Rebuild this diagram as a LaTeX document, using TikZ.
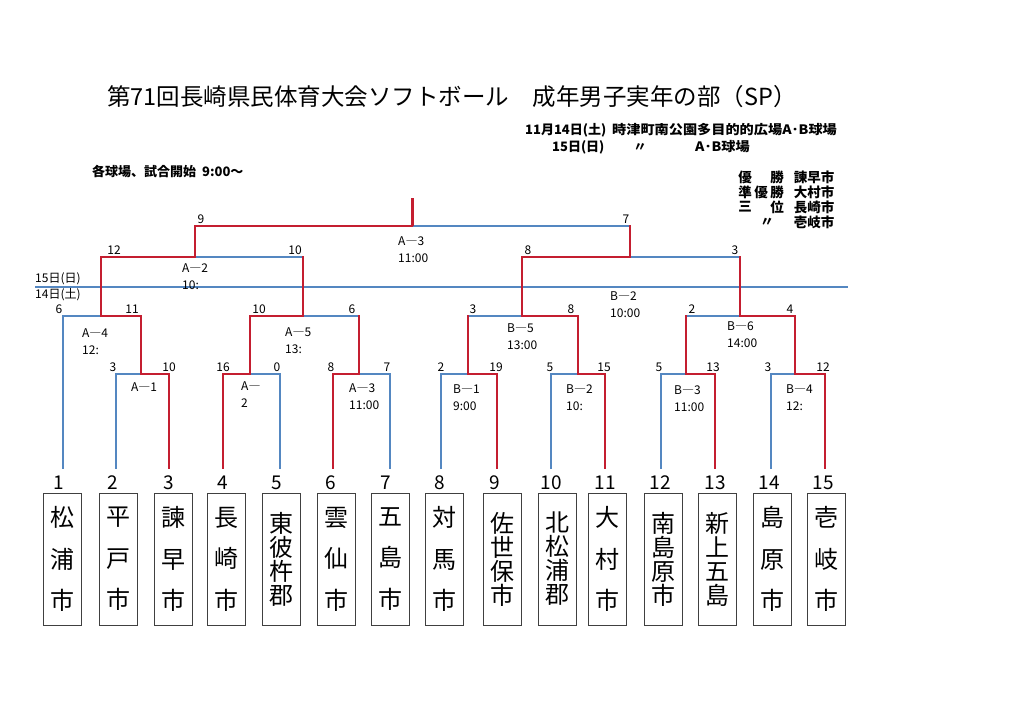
\documentclass[tikz,border=0pt]{standalone}
\usepackage{fontspec}
\setmainfont{Noto Sans CJK JP}
\usepackage{graphicx}
\definecolor{bl}{RGB}{84,135,193}
\definecolor{rd}{RGB}{196,30,48}
\newcommand\teamfontA{\fontsize{24}{41.5}\selectfont\setlength{\lineskiplimit}{-20pt}}
\newcommand\teamfontB{\fontsize{24}{24}\selectfont\setlength{\lineskiplimit}{-20pt}}
\tikzset{
  bline/.style={draw=bl, line width=1.4pt, line cap=rect},
  rline/.style={draw=rd, line width=1.4pt, line cap=rect},
  sepline/.style={draw=bl, line width=1.2pt},
  score/.style={font=\fontsize{12}{12}\selectfont, inner sep=0pt, anchor=south},
  mlab/.style={font=\fontsize{12}{17}\selectfont, inner sep=0pt, anchor=west, align=left},
  num/.style={font=\fontsize{19}{19}\selectfont, inner sep=0pt},
  team/.style={draw=black!75, line width=0.8pt, minimum width=38pt, minimum height=132pt, inner sep=0pt, align=center,
    font=\teamfontA},
  teamf/.style={team, font=\teamfontB},
  head/.style={font=\bfseries\fontsize{13}{13}\selectfont, inner sep=0pt},
  rhead/.style={font=\bfseries\fontsize{13.5}{13.5}\selectfont, inner sep=0pt},
  daylab/.style={font=\fontsize{12}{12}\selectfont, inner sep=0pt, anchor=west},
}
\begin{document}
\begin{tikzpicture}[x=1pt,y=-1pt]
\useasboundingbox[fill=white] (0,0) rectangle (1024,724);

% ---------- headings ----------
\node[anchor=west, inner sep=0pt, font=\fontsize{23.5}{23.5}\selectfont] (title) at (107,97)
  {第71回長崎県民体育大会ソフトボール　成年男子実年の部（SP）};
\node[head, anchor=west] (d1) at (525,130) {11月14日(土)};
\node[head, anchor=west] (v1) at (612,130) {\scalebox{1.09}[1]{時津町南公園多目的的広場A･B球場}};
\node[head, anchor=west] (d2) at (552,147) {15日(日)};
\node[head] (v2a) at (640,147) {〃};
\node[head, anchor=west] (v2b) at (695,147) {\scalebox{1.09}[1]{A･B球場}};
\node[head, anchor=west] (start) at (92,172) {各球場、試合開始\ \ 9:00～};

\node[rhead] (r1a) at (745,177) {優};
\node[rhead] (r1b) at (777,177) {勝};
\node[rhead] (r1c) at (814,177) {諫早市};
\node[rhead] (r2a) at (745,192) {準};
\node[rhead] (r2b) at (761,192) {優};
\node[rhead] (r2c) at (777,192) {勝};
\node[rhead] (r2d) at (814,192) {大村市};
\node[rhead] (r3a) at (745,207) {三};
\node[rhead] (r3b) at (777,207) {位};
\node[rhead] (r3c) at (814,207) {長崎市};
\node[rhead] (r4a) at (767,222) {〃};
\node[rhead] (r4c) at (814,222) {壱岐市};

% ---------- day separator ----------
\coordinate (sepL) at (35,287);
\coordinate (sepR) at (848,287);
\draw[sepline] (sepL) -- (sepR);
\node[daylab] (day15) at (35,279) {15日(日)};
\node[daylab] (day14) at (35,295) {14日(土)};

% ---------- team numbers, boxes ----------
\foreach \i/\x in {1/63,2/116,3/169,4/223,5/280,6/333,7/390,8/441,9/497,10/551,11/605,12/661,13/715,14/771,15/825}
  {\coordinate (e\i) at (\x,468);}
\foreach \i/\x in {1/59,2/113,3/169,4/223,5/277,6/331,7/386,8/440,9/495,10/551,11/605,12/660,13/715,14/769,15/823}
  {\node[num] (n\i) at (\x,483) {\i};}

\node[team]  (b1)  at (62,559)    {松\\浦\\市};
\node[team]  (b2)  at (118,559)   {平\\戸\\市};
\node[team]  (b3)  at (173,559)   {諫\\早\\市};
\node[team]  (b4)  at (226.5,559) {長\\崎\\市};
\node[teamf] (b5)  at (281,559)   {東\\彼\\杵\\郡};
\node[team]  (b6)  at (336.5,559) {雲\\仙\\市};
\node[team]  (b7)  at (390.5,559) {五\\島\\市};
\node[team]  (b8)  at (444.5,559) {対\\馬\\市};
\node[teamf] (b9)  at (502.5,559) {佐\\世\\保\\市};
\node[teamf] (b10) at (557.5,559) {北\\松\\浦\\郡};
\node[team]  (b11) at (607.5,559) {大\\村\\市};
\node[teamf] (b12) at (663.5,559) {南\\島\\原\\市};
\node[teamf] (b13) at (717,559)   {新\\上\\五\\島};
\node[team]  (b14) at (772.5,559) {島\\原\\市};
\node[team]  (b15) at (826.5,559) {壱\\岐\\市};

% ---------- bracket coordinates ----------
\coordinate (a1l) at (116,374); \coordinate (a1m) at (141,374); \coordinate (a1r) at (169,374); \coordinate (a1u) at (141,316);
\coordinate (a2l) at (223,374); \coordinate (a2m) at (250,374); \coordinate (a2r) at (280,374); \coordinate (a2u) at (250,316);
\coordinate (a3l) at (333,374); \coordinate (a3m) at (359,374); \coordinate (a3r) at (390,374); \coordinate (a3u) at (359,316);
\coordinate (b1l) at (441,374); \coordinate (b1m) at (468,374); \coordinate (b1r) at (497,374); \coordinate (b1u) at (468,316);
\coordinate (b2l) at (551,374); \coordinate (b2m) at (578,374); \coordinate (b2r) at (605,374); \coordinate (b2u) at (578,316);
\coordinate (b3l) at (661,374); \coordinate (b3m) at (686,374); \coordinate (b3r) at (715,374); \coordinate (b3u) at (686,316);
\coordinate (b4l) at (771,374); \coordinate (b4m) at (795,374); \coordinate (b4r) at (825,374); \coordinate (b4u) at (795,316);
\coordinate (a4l) at (63,316);  \coordinate (a4m) at (101,316); \coordinate (a4u) at (101,257);
\coordinate (a5m) at (303,316); \coordinate (a5u) at (303,257);
\coordinate (b5m) at (522,316); \coordinate (b5u) at (522,257);
\coordinate (b6m) at (740,316); \coordinate (b6u) at (740,257);
\coordinate (u2m) at (195,257); \coordinate (u2u) at (195,226);
\coordinate (v2m) at (630,257); \coordinate (v2u) at (630,226);
\coordinate (fm) at (412,226); \coordinate (top) at (412,198);

% ---------- blue (losing) paths ----------
\draw[bline, line width=2pt] (e1) -- (a4l) -- (a4m);
\draw[bline] (e2) -- (a1l) -- (a1m);
\draw[bline] (e5) -- (a2r) -- (a2m);
\draw[bline] (e7) -- (a3r) -- (a3m);
\draw[bline] (e8) -- (b1l) -- (b1m);
\draw[bline] (e10) -- (b2l) -- (b2m);
\draw[bline] (e12) -- (b3l) -- (b3m);
\draw[bline] (e14) -- (b4l) -- (b4m);
\draw[bline] (a5m) -- (a3u);
\draw[bline] (b1u) -- (b5m);
\draw[bline] (b3u) -- (b6m);
\draw[bline] (u2m) -- (a5u);
\draw[bline] (v2m) -- (b6u);
\draw[bline] (fm) -- (v2u);

% ---------- red (winning) paths ----------
\draw[rline] (e3) -- (a1r) -- (a1m) -- (a1u) -- (a4m) -- (a4u) -- (u2m) -- (u2u) -- (fm);
\draw[rline] (e4) -- (a2l) -- (a2m) -- (a2u) -- (a5m) -- (a5u);
\draw[rline] (e6) -- (a3l) -- (a3m) -- (a3u);
\draw[rline] (e9) -- (b1r) -- (b1m) -- (b1u);
\draw[rline] (e11) -- (b2r) -- (b2m) -- (b2u) -- (b5m) -- (b5u) -- (v2m) -- (v2u);
\draw[rline] (e13) -- (b3r) -- (b3m) -- (b3u);
\draw[rline] (e15) -- (b4r) -- (b4m) -- (b4u) -- (b6m) -- (b6u);
\draw[rline, line width=3pt, line cap=butt] (fm) -- (top);

% ---------- scores ----------
\node[score] (s01) at (201,224) {9};
\node[score] (s02) at (626,224) {7};
\node[score] (s03) at (114,255) {12};
\node[score] (s04) at (295,255) {10};
\node[score] (s05) at (528,255) {8};
\node[score] (s06) at (735,255) {3};
\node[score] (s07) at (59,314) {6};
\node[score] (s08) at (132,314) {11};
\node[score] (s09) at (259,314) {10};
\node[score] (s10) at (352,314) {6};
\node[score] (s11) at (473,314) {3};
\node[score] (s12) at (571,314) {8};
\node[score] (s13) at (692,314) {2};
\node[score] (s14) at (790,314) {4};
\node[score] (s15) at (113,372) {3};
\node[score] (s16) at (169,372) {10};
\node[score] (s17) at (223,372) {16};
\node[score] (s18) at (277,372) {0};
\node[score] (s19) at (331,372) {8};
\node[score] (s20) at (387,372) {7};
\node[score] (s21) at (441,372) {2};
\node[score] (s22) at (496,372) {19};
\node[score] (s23) at (550,372) {5};
\node[score] (s24) at (604,372) {15};
\node[score] (s25) at (659,372) {5};
\node[score] (s26) at (713,372) {13};
\node[score] (s27) at (768,372) {3};
\node[score] (s28) at (823,372) {12};

% ---------- match labels ----------
\node[mlab] (mA3f) at (398,249.5) {A―3\\11:00};
\node[mlab] (mA2u) at (182,276.5) {A―2\\10:};
\node[mlab] (mA4)  at (82,341.5)  {A―4\\12:};
\node[mlab] (mA5)  at (285,340.5) {A―5\\13:};
\node[mlab] (mA1)  at (131,387)   {A―1};
\node[mlab] (mA2)  at (241,395)   {A―\\2};
\node[mlab] (mA3)  at (349,396.5) {A―3\\11:00};
\node[mlab] (mB5)  at (507,336.5) {B―5\\13:00};
\node[mlab] (mB2u) at (610,305)   {B―2\\10:00};
\node[mlab] (mB6)  at (727,335)   {B―6\\14:00};
\node[mlab] (mB1)  at (453,398)   {B―1\\9:00};
\node[mlab] (mB2)  at (566,398)   {B―2\\10:};
\node[mlab] (mB3)  at (674,399)   {B―3\\11:00};
\node[mlab] (mB4)  at (786,398)   {B―4\\12:};
\end{tikzpicture}
\end{document}
